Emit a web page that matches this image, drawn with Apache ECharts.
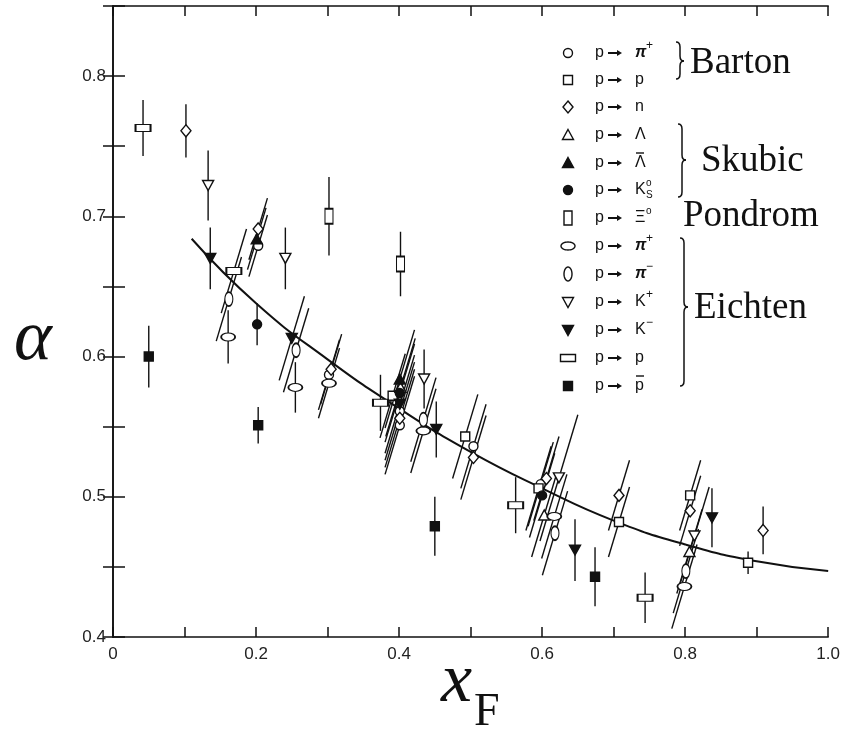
<!DOCTYPE html>
<html><head><meta charset="utf-8">
<script src="https://cdn.jsdelivr.net/npm/echarts@6/dist/echarts.min.js"></script>
<style>html,body{margin:0;padding:0;background:#fff}#c{width:843px;height:738px}</style>
</head><body><div id="c"></div>
<script>
// each point: [x_F, alpha, error, correlated-error flag]
const barton_pip   = [[0.203,0.679,0.022,1],[0.302,0.587,0.025,1],[0.401,0.561,0.035,1],[0.401,0.551,0.035,1],[0.504,0.536,0.03,1],[0.598,0.509,0.03,1]];
const barton_p     = [[0.391,0.572,0.03,1],[0.4925,0.543,0.03,1],[0.595,0.506,0.03,1],[0.7075,0.482,0.025,1],[0.807,0.501,0.025,1],[0.888,0.453,0.008,0]];
const barton_n     = [[0.102,0.761,0.019,0],[0.203,0.691,0.022,1],[0.305,0.591,0.025,1],[0.401,0.556,0.035,1],[0.504,0.528,0.03,1],[0.606,0.513,0.03,1],[0.7075,0.501,0.025,1],[0.807,0.490,0.025,1],[0.909,0.476,0.017,0]];
const skubic_L     = [[0.402,0.578,0.035,1],[0.603,0.487,0.03,1],[0.806,0.461,0.03,1]];
const skubic_Lbar  = [[0.201,0.684,0.022,1],[0.401,0.584,0.035,1]];
const skubic_K0    = [[0.2015,0.623,0.015,0],[0.401,0.574,0.035,1],[0.600,0.501,0.03,1]];
const pondrom_Xi   = [[0.302,0.700,0.028,0],[0.402,0.666,0.023,0]];
const eichten_pip  = [[0.161,0.614,0.019,0],[0.255,0.578,0.018,0],[0.302,0.581,0.025,1],[0.434,0.547,0.03,1],[0.617,0.486,0.03,1],[0.799,0.436,0.03,1]];
const eichten_pim  = [[0.162,0.641,0.03,1],[0.256,0.6045,0.03,1],[0.434,0.555,0.03,1],[0.618,0.474,0.03,1],[0.801,0.447,0.03,1]];
const eichten_Kp   = [[0.133,0.722,0.025,0],[0.241,0.670,0.022,0],[0.435,0.584,0.021,0],[0.6235,0.5135,0.045,1],[0.813,0.472,0.035,1]];
const eichten_Km   = [[0.136,0.670,0.022,0],[0.250,0.613,0.03,1],[0.401,0.566,0.035,1],[0.452,0.548,0.02,0],[0.646,0.462,0.022,0],[0.8375,0.485,0.021,0]];
const eichten_p    = [[0.042,0.763,0.02,0],[0.169,0.661,0.03,1],[0.374,0.567,0.02,0],[0.563,0.494,0.02,0],[0.744,0.428,0.018,0]];
const eichten_pbar = [[0.050,0.600,0.022,0],[0.203,0.551,0.013,0],[0.450,0.479,0.021,0],[0.674,0.443,0.021,0]];
const fitCurve = [[0.11,0.684],[0.2,0.638],[0.3,0.598],[0.4,0.563],[0.5,0.532],[0.6,0.506],[0.7,0.483],[0.8,0.466],[0.9,0.454],[1.0,0.447]];
const xTickLabels = ['0','0.2','0.4','0.6','0.8','1.0'];
const yTickLabels = ['0.4','0.5','0.6','0.7','0.8'];

const INK = '#111';
const ELL = 'path://M0,5C0,2.2 2.2,0 5,0C7.8,0 10,2.2 10,5C10,7.8 7.8,10 5,10C2.2,10 0,7.8 0,5Z';
const groups = [
  {name:'Barton p→π+', data:barton_pip, symbol:'circle', size:9, fill:'#fff'},
  {name:'Barton p→p', data:barton_p, symbol:'rect', size:9, fill:'#fff'},
  {name:'p→n', data:barton_n, symbol:'diamond', size:[10,12], fill:'#fff'},
  {name:'Skubic p→Λ', data:skubic_L, symbol:'triangle', size:[11,10], fill:'#fff'},
  {name:'Skubic p→anti-Λ', data:skubic_Lbar, symbol:'triangle', size:[11,10], fill:INK},
  {name:'Skubic p→K0s', data:skubic_K0, symbol:'circle', size:9, fill:INK},
  {name:'Pondrom p→Ξ0', data:pondrom_Xi, symbol:'rect', size:[8,15], fill:'#fff'},
  {name:'Eichten p→π+', data:eichten_pip, symbol:ELL, size:[14,8], fill:'#fff'},
  {name:'Eichten p→π-', data:eichten_pim, symbol:ELL, size:[8,14], fill:'#fff'},
  {name:'Eichten p→K+', data:eichten_Kp, symbol:'triangle', size:[11,10], rot:180, fill:'#fff'},
  {name:'Eichten p→K-', data:eichten_Km, symbol:'triangle', size:[11,10], rot:180, fill:INK},
  {name:'Eichten p→p', data:eichten_p, symbol:'rect', size:[15,7], fill:'#fff'},
  {name:'Eichten p→pbar', data:eichten_pbar, symbol:'rect', size:9, fill:INK}
];

const allErr = [];
groups.forEach(g => g.data.forEach(d => allErr.push(d)));

function errRender(params, api){
  const x = api.value(0), y = api.value(1), e = api.value(2), c = api.value(3);
  const lo = api.coord([x, y - e]), hi = api.coord([x, y + e]);
  const d = c ? (lo[1] - hi[1]) * 0.15 : 0;
  return {type:'line', shape:{x1:lo[0]-d, y1:lo[1], x2:hi[0]+d, y2:hi[1]},
          style:{stroke:INK, lineWidth:1.4}};
}

const series = [
  {type:'custom', name:'errors', data:allErr, renderItem:errRender, encode:{x:0,y:1}, z:2, silent:true},
  {type:'line', name:'fit', data:fitCurve, smooth:true, showSymbol:false,
   lineStyle:{color:INK, width:2}, z:3, silent:true}
];
groups.forEach(g => series.push({
  type:'scatter', name:g.name, data:g.data.map(d => [d[0], d[1]]),
  symbol:g.symbol, symbolSize:g.size, symbolRotate:g.rot || 0,
  itemStyle:{color:g.fill, borderColor:INK, borderWidth:1.4, opacity:1}, z:4, silent:true
}));

function xLab(v){
  const k = Math.round(v * 10);
  return k % 2 === 0 ? xTickLabels[k / 2] : '';
}
function yLab(v){
  const k = Math.round(v * 100);
  return k % 10 === 0 ? yTickLabels[(k - 40) / 10] : '';
}
const axisLine = {show:true, lineStyle:{color:INK, width:1.6}};
const labelFont = {fontFamily:'"Liberation Sans", Arial, sans-serif', fontSize:17, color:'#222'};

// ---------- legend & annotation graphics ----------
const rowY = [53,80,107,135,163,190,218,246,274,302,330,358,386];
const SX = 568, TX = 595, PX = 635;
function ellPts(cx, cy, rx, ry){
  const p = [];
  for (let i = 0; i < 32; i++){ const t = i / 32 * Math.PI * 2; p.push([cx + rx*Math.cos(t), cy + ry*Math.sin(t)]); }
  return p;
}
const stOpen = {fill:'#fff', stroke:INK, lineWidth:1.4};
const stFill = {fill:INK, stroke:INK, lineWidth:1.4};
function legSym(i){
  const y = rowY[i], x = SX;
  switch(i){
    case 0: return {type:'circle', shape:{cx:x, cy:y, r:4.5}, style:stOpen};
    case 1: return {type:'rect', shape:{x:x-4.5, y:y-4.5, width:9, height:9}, style:stOpen};
    case 2: return {type:'polygon', shape:{points:[[x,y-6],[x+5,y],[x,y+6],[x-5,y]]}, style:stOpen};
    case 3: return {type:'polygon', shape:{points:[[x,y-5.5],[x+5.5,y+4.5],[x-5.5,y+4.5]]}, style:stOpen};
    case 4: return {type:'polygon', shape:{points:[[x,y-5.5],[x+5.5,y+4.5],[x-5.5,y+4.5]]}, style:stFill};
    case 5: return {type:'circle', shape:{cx:x, cy:y, r:4.5}, style:stFill};
    case 6: return {type:'rect', shape:{x:x-4, y:y-7, width:8, height:14}, style:stOpen};
    case 7: return {type:'polygon', shape:{points:ellPts(x,y,7,4)}, style:stOpen};
    case 8: return {type:'polygon', shape:{points:ellPts(x,y,4,7)}, style:stOpen};
    case 9: return {type:'polygon', shape:{points:[[x-5.5,y-4.5],[x+5.5,y-4.5],[x,y+5.5]]}, style:stOpen};
    case 10: return {type:'polygon', shape:{points:[[x-5.5,y-4.5],[x+5.5,y-4.5],[x,y+5.5]]}, style:stFill};
    case 11: return {type:'rect', shape:{x:x-7.5, y:y-3.5, width:15, height:7}, style:stOpen};
    case 12: return {type:'rect', shape:{x:x-4.5, y:y-4.5, width:9, height:9}, style:stFill};
  }
}
const SANS = '"Liberation Sans", Arial, sans-serif';
function txt(x, y, s, font, extra){
  return Object.assign({type:'text', x:x, y:y, silent:true,
    style:{text:s, font:font, fill:INK, textAlign:'left', align:'left', textVerticalAlign:'middle', verticalAlign:'middle'}}, extra || {});
}
const particles = [
  {b:'π', it:true, sup:'+'},{b:'p'},{b:'n'},{b:'Λ'},{b:'Λ', bar:true},{b:'K', sup:'o', sub:'S'},
  {b:'Ξ', sup:'o'},{b:'π', it:true, sup:'+'},{b:'π', it:true, sup:'−'},{b:'K', sup:'+'},{b:'K', sup:'−'},{b:'p'},{b:'p', bar:true}
];
const graphics = [];
rowY.forEach((y, i) => {
  graphics.push(legSym(i));
  graphics.push(txt(TX, y, 'p', '16px ' + SANS));
  graphics.push({type:'line', shape:{x1:608, y1:y, x2:618, y2:y}, style:{stroke:INK, lineWidth:2}, silent:true});
  graphics.push({type:'polygon', shape:{points:[[617,y-3],[622,y],[617,y+3]]}, style:{fill:INK}, silent:true});
  const p = particles[i];
  graphics.push(txt(PX, y, p.b, (p.it ? 'italic bold ' : '') + '16px ' + SANS));
  if (p.sup) graphics.push(txt(PX + 11, y - 7, p.sup, (p.sup === 'o' ? '10px ' : '12px ') + SANS));
  if (p.sub) graphics.push(txt(PX + 11, y + 5, p.sub, '10px ' + SANS));
  if (p.bar) graphics.push({type:'line', shape:{x1:PX+1, y1:y-10, x2:PX+9, y2:y-10}, style:{stroke:INK, lineWidth:1.4}, silent:true});
});
function brace(x, y1, y2, ym, w){
  const st = {stroke:INK, lineWidth:1.5, fill:null};
  const r = 5;
  return [
    {type:'bezierCurve', shape:{x1:x, y1:y1, cpx1:x+w, cpy1:y1, x2:x+w, y2:y1+r}, style:st, silent:true},
    {type:'line', shape:{x1:x+w, y1:y1+r, x2:x+w, y2:ym-r}, style:st, silent:true},
    {type:'bezierCurve', shape:{x1:x+w, y1:ym-r, cpx1:x+w, cpy1:ym, x2:x+2*w, y2:ym}, style:st, silent:true},
    {type:'bezierCurve', shape:{x1:x+2*w, y1:ym, cpx1:x+w, cpy1:ym, x2:x+w, y2:ym+r}, style:st, silent:true},
    {type:'line', shape:{x1:x+w, y1:ym+r, x2:x+w, y2:y2-r}, style:st, silent:true},
    {type:'bezierCurve', shape:{x1:x+w, y1:y2-r, cpx1:x+w, cpy1:y2, x2:x, y2:y2}, style:st, silent:true}
  ];
}
const SERIF = '"Liberation Serif", "Times New Roman", serif';
graphics.push(...brace(676, 42, 79, 61, 4));
graphics.push(...brace(678, 124, 197, 160, 4));
graphics.push(...brace(680, 238, 386, 307, 4));
graphics.push(txt(690, 63, 'Barton', '37px ' + SERIF));
graphics.push(txt(701, 161, 'Skubic', '37px ' + SERIF));
graphics.push(txt(683, 216, 'Pondrom', '37px ' + SERIF));
graphics.push(txt(694, 308, 'Eichten', '37px ' + SERIF));
// axis titles
graphics.push({type:'text', x:33, y:340, silent:true,
  style:{text:'α', font:'italic 72px ' + SERIF, fill:INK, textAlign:'center', align:'center', textVerticalAlign:'middle', verticalAlign:'middle'}});
graphics.push({type:'text', x:441, y:718, silent:true,
  style:{text:'x', font:'italic 70px ' + SERIF, fill:INK, textAlign:'left', align:'left', textVerticalAlign:'bottom', verticalAlign:'bottom'}});
graphics.push({type:'text', x:474, y:736, silent:true,
  style:{text:'F', font:'46px ' + SERIF, fill:INK, textAlign:'left', align:'left', textVerticalAlign:'bottom', verticalAlign:'bottom'}});

const chart = echarts.init(document.getElementById('c'), null, {renderer:'canvas'});
chart.setOption({
  animation:false,
  backgroundColor:'#fff',
  grid:{left:113, right:9, top:6, bottom:101, containLabel:false},
  xAxis:[
    {type:'value', min:0, max:1, interval:0.1, position:'bottom', axisLine:axisLine,
     axisTick:{show:true, inside:true, length:10, lineStyle:{color:INK, width:1.5}},
     axisLabel:Object.assign({formatter:xLab, margin:9, showMaxLabel:true, showMinLabel:true}, labelFont),
     splitLine:{show:false}},
    {type:'value', min:0, max:1, interval:0.1, position:'top', axisLine:axisLine,
     axisTick:{show:true, inside:true, length:10, lineStyle:{color:INK, width:1.5}},
     axisLabel:{show:false}, splitLine:{show:false}}
  ],
  yAxis:[
    {type:'value', min:0.4, max:0.85, interval:0.05, position:'left', axisLine:axisLine,
     axisTick:{show:true, inside:true, length:12, lineStyle:{color:INK, width:1.5}},
     axisLabel:Object.assign({formatter:yLab, margin:7}, labelFont),
     splitLine:{show:false}},
    {type:'value', min:0.4, max:0.85, interval:0.05, position:'right', axisLine:axisLine,
     axisTick:{show:true, inside:true, length:10, lineStyle:{color:INK, width:1.5}},
     axisLabel:{show:false}, splitLine:{show:false}}
  ],
  series:series,
  graphic:{elements:graphics}
});
</script></body></html>
